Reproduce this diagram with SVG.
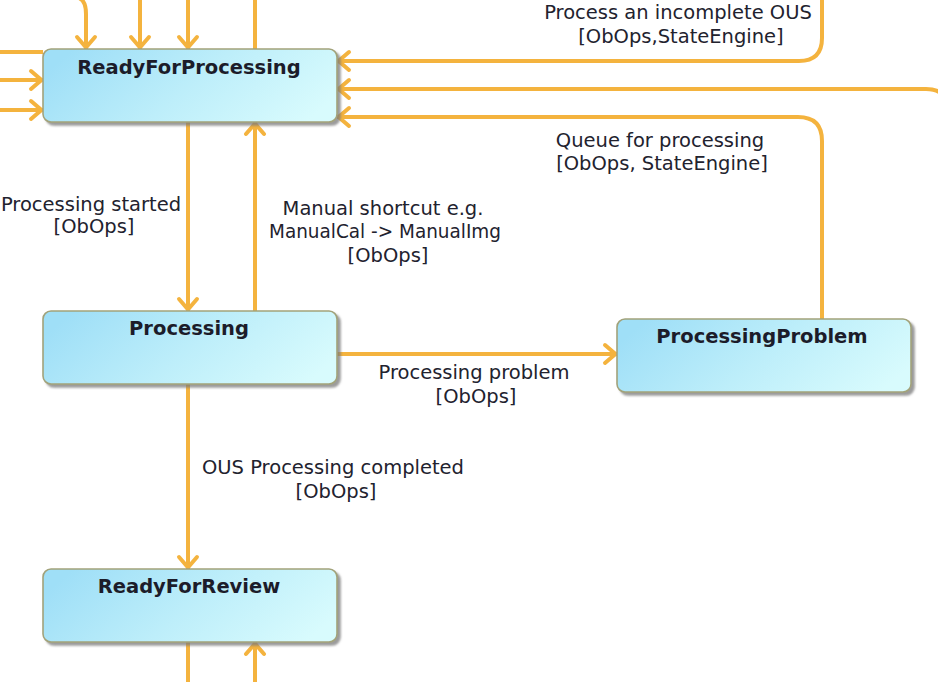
<svg xmlns="http://www.w3.org/2000/svg" width="938" height="682" viewBox="0 0 938 682">
  <defs>
    <linearGradient id="boxFill" x1="0" y1="0.35" x2="1" y2="0.65">
      <stop offset="0" stop-color="#9FDFF7"/>
      <stop offset="0.5" stop-color="#BDEEFA"/>
      <stop offset="1" stop-color="#D8FBFD"/>
    </linearGradient>
    <filter id="shadow" x="-10%" y="-20%" width="120%" height="150%">
      <feDropShadow dx="3" dy="3" stdDeviation="1.2" flood-color="#7a7a7a" flood-opacity="0.75"/>
    </filter>
    <marker id="arr" markerUnits="userSpaceOnUse" markerWidth="20" markerHeight="26" viewBox="-16 -13 20 26" refX="0" refY="0" orient="auto">
      <path d="M-12,-9 L-1.5,0 L-12,9" fill="none" stroke="#F4B33E" stroke-width="4" stroke-linecap="round" stroke-linejoin="round"/>
    </marker>
    <style>
      .node rect { fill: url(#boxFill); stroke: #A2A27A; stroke-width: 1.6; filter: url(#shadow); }
      .node text { font-family: "DejaVu Sans", "Liberation Sans", sans-serif; font-weight: bold; font-size: 19.5px; fill: #1c1c2a; text-anchor: middle; }
      .edge { fill: none; stroke: #F4B33E; stroke-width: 4; stroke-linejoin: round; }
      .arrow { marker-end: url(#arr); }
      .lbl { font-family: "DejaVu Sans", "Liberation Sans", sans-serif; font-size: 19.5px; fill: #22222e; text-anchor: middle; }
    </style>
  </defs>

  <g id="connectors">
    <!-- incoming from top into ReadyForProcessing -->
    <path class="edge arrow" d="M79,-2 C84,0 86,5 86,14 L86,49"/>
    <path class="edge arrow" d="M140,0 L140,49"/>
    <path class="edge arrow" d="M188,0 L188,49"/>
    <path class="edge" d="M255,49 L255,0"/>
    <!-- left side -->
    <path class="edge" d="M43,52 L0,52"/>
    <path class="edge arrow" d="M0,80 L43,80"/>
    <path class="edge arrow" d="M0,110 L43,110"/>
    <!-- right side -->
    <path class="edge arrow" d="M822,0 L822,38 Q822,61 799,61 L337,61"/>
    <path class="edge arrow" d="M948,130 L948,111 Q948,89 926,89 L337,89"/>
    <path class="edge arrow" d="M822,319 L822,141 Q822,117 798,117 L337,117"/>
    <!-- ReadyForProcessing <-> Processing -->
    <path class="edge arrow" d="M188,122 L188,311"/>
    <path class="edge arrow" d="M255,311 L255,122"/>
    <!-- Processing -> ProcessingProblem -->
    <path class="edge arrow" d="M337,354 L617,354"/>
    <!-- Processing -> ReadyForReview -->
    <path class="edge arrow" d="M188,384 L188,569"/>
    <!-- bottom of ReadyForReview -->
    <path class="edge" d="M188,642 L188,682"/>
    <path class="edge arrow" d="M255,682 L255,642"/>

    <text class="lbl" x="678" y="19">Process an incomplete OUS</text>
    <text class="lbl" x="681" y="43">[ObOps,StateEngine]</text>
    <text class="lbl" x="660" y="147">Queue for processing</text>
    <text class="lbl" x="662" y="170">[ObOps, StateEngine]</text>
    <text class="lbl" x="91" y="211">Processing started</text>
    <text class="lbl" x="94" y="233">[ObOps]</text>
    <text class="lbl" x="383" y="215">Manual shortcut e.g.</text>
    <text class="lbl" x="385" y="238" textLength="232" lengthAdjust="spacingAndGlyphs">ManualCal -&gt; ManualImg</text>
    <text class="lbl" x="388" y="262">[ObOps]</text>
    <text class="lbl" x="474" y="379">Processing problem</text>
    <text class="lbl" x="476" y="403">[ObOps]</text>
    <text class="lbl" x="333" y="474">OUS Processing completed</text>
    <text class="lbl" x="336" y="498">[ObOps]</text>
  </g>

  <g id="ReadyForProcessing" class="node">
    <rect x="43" y="49" width="294" height="73" rx="8" ry="8"/>
    <text x="189" y="74">ReadyForProcessing</text>
  </g>
  <g id="Processing" class="node">
    <rect x="43" y="311" width="294" height="73" rx="8" ry="8"/>
    <text x="189" y="335">Processing</text>
  </g>
  <g id="ProcessingProblem" class="node">
    <rect x="617" y="319" width="294" height="73" rx="8" ry="8"/>
    <text x="762" y="343">ProcessingProblem</text>
  </g>
  <g id="ReadyForReview" class="node">
    <rect x="43" y="569" width="294" height="73" rx="8" ry="8"/>
    <text x="189" y="593">ReadyForReview</text>
  </g>
</svg>
